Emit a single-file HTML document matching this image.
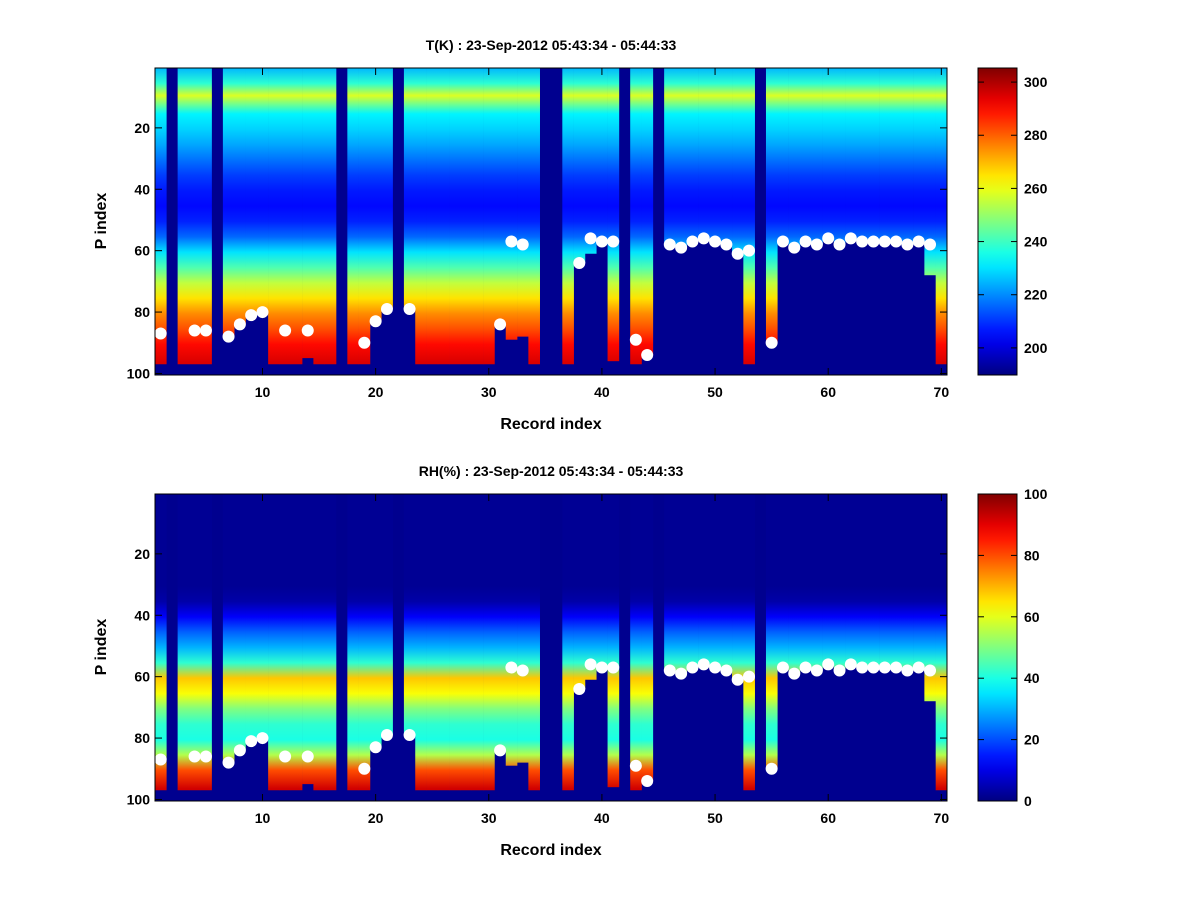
<!DOCTYPE html>
<html><head><meta charset="utf-8">
<style>
body{margin:0;background:#fff;}
svg text{font-family:"Liberation Sans",sans-serif;font-weight:bold;font-size:14px;fill:#000;}
</style></head>
<body>
<svg id="fig" width="1200" height="900" xmlns="http://www.w3.org/2000/svg"></svg>
<script>
// ---- data ----
const records = Array.from({length:70},(_,i)=>i+1);
const missingCols = [2,6,17,22,35,36,42,45,54];
const surfaceP = [87,null,null,86,86,null,88,84,81,80,null,86,null,86,null,null,null,null,90,83,79,null,79,null,null,null,null,null,null,null,84,57,58,null,null,null,null,64,56,57,57,null,89,94,null,58,59,57,56,57,58,61,60,null,90,57,59,57,58,56,58,56,57,57,57,57,58,57,58,null];
const dataBottom = [97,0,97,97,97,0,88,84,81,80,97,97,97,95,97,97,0,97,97,83,79,0,79,97,97,97,97,97,97,97,84,89,88,97,0,0,97,64,61,57,96,0,97,94,0,58,59,57,56,57,58,61,97,0,90,57,59,57,58,56,58,56,57,57,57,57,58,57,68,97];
const profP = [0,5,9,12,15,20,25,30,35,40,45,50,55,60,65,70,75,80,85,90,96,100];
const tempProfile = [225,238,258,245,232,228,223,217,211,207,205,208,216,230,242,255,265,275,282,290,295,295];
const rhProfile = [2,2,2,2,2,2,2,2,4,12,22,30,42,68,62,50,42,40,55,80,92,92];
const tTicks = [200,220,240,260,280,300];
const rhTicks = [0,20,40,60,80,100];
const xTicks = [10,20,30,40,50,60,70];
const yTicks = [20,40,60,80,100];

function jet(v){
  v=Math.max(0,Math.min(1,v));
  const r=Math.max(0,Math.min(1,1.5-Math.abs(4*v-3)));
  const g=Math.max(0,Math.min(1,1.5-Math.abs(4*v-2)));
  const b=Math.max(0,Math.min(1,1.5-Math.abs(4*v-1)));
  return `rgb(${Math.round(r*255)},${Math.round(g*255)},${Math.round(b*255)})`;
}
const NS="http://www.w3.org/2000/svg";
const svg=document.getElementById('fig');
function mk(tag,attrs,parent){const e=document.createElementNS(NS,tag);for(const k in attrs)e.setAttribute(k,attrs[k]);(parent||svg).appendChild(e);return e;}

const AX={x0:155,x1:947};
function xs(i){return AX.x0+(i-0.5)*(AX.x1-AX.x0)/70;}
function panel(top,profile,vmin,vmax,cticks,title,id){
  const bottom=top+307;
  const ys=p=>top+(p-0.5)*307/100;
  const g=mk('g',{});
  
  
  const defs=mk('defs',{},g);
  const grad=mk('linearGradient',{id:id+'grad',gradientUnits:'userSpaceOnUse',x1:0,x2:0,y1:ys(0.5),y2:ys(100.5)},defs);
  profP.forEach((p,k)=>{mk('stop',{offset:(p/100),'stop-color':jet((profile[k]-vmin)/(vmax-vmin))},grad);});
  const bg=mk('rect',{x:AX.x0,y:top,width:AX.x1-AX.x0,height:307,fill:'#00008f'},g);
  
  
  const cw=(AX.x1-AX.x0)/70;
  records.forEach((r,i)=>{
    if(missingCols.includes(r)||!dataBottom[i])return;
    const c=mk('rect',{x:xs(r)-cw/2,y:top,width:cw+0.3,height:ys(dataBottom[i])-top,fill:`url(#${id}grad)`},g);
    
    
  });
  records.forEach((r,i)=>{
    if(surfaceP[i]==null)return;
    const d=mk('circle',{cx:xs(r),cy:ys(surfaceP[i]),r:6,fill:'#fff'},g);
    
    
  });
  const fr=mk('rect',{x:AX.x0,y:top,width:AX.x1-AX.x0,height:307,fill:'none',stroke:'#000','stroke-width':1},g);
  
  
  xTicks.forEach(t=>{
    const x=xs(t);
    mk('line',{x1:x,x2:x,y1:bottom,y2:bottom-7,stroke:'#000'},g);
    mk('line',{x1:x,x2:x,y1:top,y2:top+7,stroke:'#000'},g);
    const tx=mk('text',{x:x,y:bottom+22,'text-anchor':'middle'},g);tx.textContent=t;
    
    
  });
  yTicks.forEach(t=>{
    const y=ys(t);
    mk('line',{x1:AX.x0,x2:AX.x0+7,y1:y,y2:y,stroke:'#000'},g);
    mk('line',{x1:AX.x1,x2:AX.x1-7,y1:y,y2:y,stroke:'#000'},g);
    const tx=mk('text',{x:AX.x0-5,y:y+5,'text-anchor':'end'},g);tx.textContent=t;
    
    
  });
  const ti=mk('text',{x:551,y:top-18,'text-anchor':'middle'},g);ti.textContent=title;
  
  
  const xl=mk('text',{x:551,y:bottom+54,'text-anchor':'middle',style:'font-size:16px'},g);xl.textContent='Record index';
  
  
  const yl=mk('text',{x:0,y:0,'text-anchor':'middle',style:'font-size:16px',transform:`translate(106,${top+153}) rotate(-90)`},g);yl.textContent='P index';
  
  
  const cg=mk('linearGradient',{id:id+'cb',x1:0,x2:0,y1:1,y2:0},defs);
  for(let k=0;k<=20;k++)mk('stop',{offset:k/20,'stop-color':jet(k/20)},cg);
  const cb=mk('rect',{x:978,y:top,width:39,height:307,fill:`url(#${id}cb)`,stroke:'#000'},g);
  
  
  cticks.forEach(t=>{
    const y=bottom-(t-vmin)/(vmax-vmin)*307;
    mk('line',{x1:978,x2:984,y1:y,y2:y,stroke:'#000'},g);
    mk('line',{x1:1017,x2:1011,y1:y,y2:y,stroke:'#000'},g);
    const tx=mk('text',{x:1024,y:y+5},g);tx.textContent=t;
    
    
  });
}
panel(68,tempProfile,189.8,305.3,tTicks,'T(K) : 23-Sep-2012 05:43:34 - 05:44:33','temperature');
panel(494,rhProfile,0,100,rhTicks,'RH(%) : 23-Sep-2012 05:43:34 - 05:44:33','humidity');
</script>
</body></html>
